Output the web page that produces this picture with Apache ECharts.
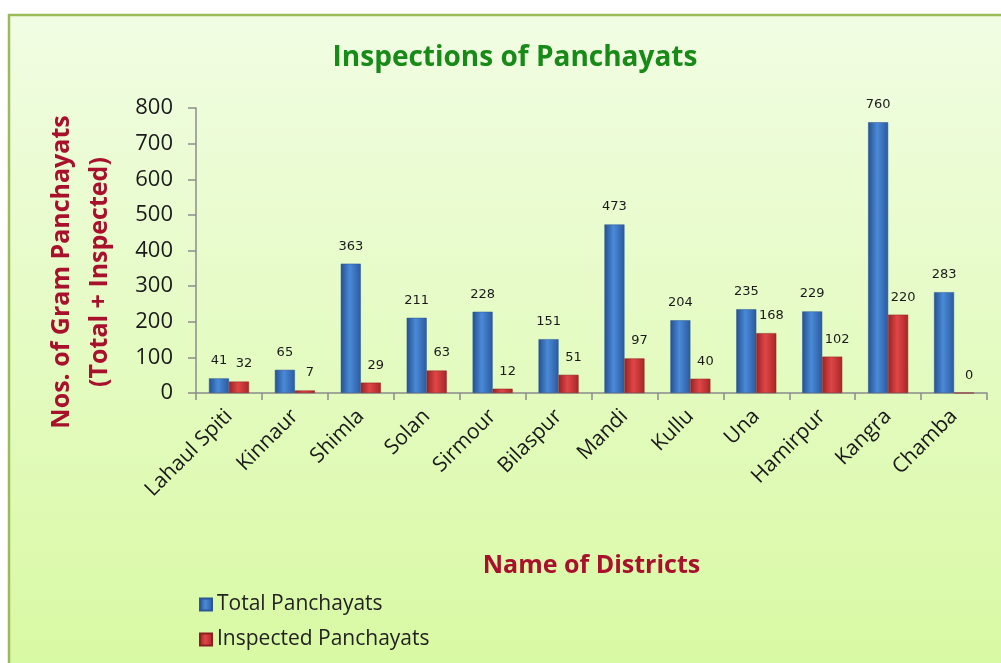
<!DOCTYPE html>
<html>
<head>
<meta charset="utf-8">
<script src="https://cdn.jsdelivr.net/npm/echarts@6/dist/echarts.min.js"></script>
<style>
  html, body { margin: 0; padding: 0; background: #fff; }
  #chart { width: 1001px; height: 663px; }
</style>
</head>
<body>
<div id="chart"></div>
<script>
// districts and counts
const districts = ['Lahaul Spiti', 'Kinnaur', 'Shimla', 'Solan', 'Sirmour', 'Bilaspur',
  'Mandi', 'Kullu', 'Una', 'Hamirpur', 'Kangra', 'Chamba']
const totalPanchayats = [41, 65, 363, 211, 228, 151, 473, 204, 235, 229, 760, 283]
const inspectedPanchayats = [32, 7, 29, 63, 12, 51, 97, 40, 168, 102, 220, 0]
const yTicks = { min: 0, max: 800, interval: 100 }

const font = 'Open Sans'

const barGrad = (dark, mid, light) => new echarts.graphic.LinearGradient(0, 0, 1, 0, [
  { offset: 0, color: dark },
  { offset: 0.45, color: light },
  { offset: 1, color: mid }
])

const chart = echarts.init(document.getElementById('chart'))
chart.setOption({
  animation: false,
  backgroundColor: '#fff',
  graphic: [
    {
      type: 'rect',
      z: -10,
      shape: { x: 9, y: 15, width: 1010, height: 660 },
      style: {
        fill: new echarts.graphic.LinearGradient(0, 0, 0, 1, [
          { offset: 0, color: '#f1fde3' },
          { offset: 1, color: '#d8f9a2' }
        ]),
        stroke: '#9bbb59',
        lineWidth: 2.5
      }
    },
    {
      // two-line y axis title, rotated
      type: 'text',
      x: 81,
      y: 272,
      rotation: Math.PI / 2,
      style: {
        text: 'Nos. of Gram Panchayats\n(Total + Inspected)',
        font: 'bold 25px "' + font + '"',
        fill: '#a8102c',
        align: 'center',
        verticalAlign: 'middle',
        lineHeight: 38
      }
    }
  ],
  title: {
    text: 'Inspections of Panchayats',
    left: 510,
    textAlign: 'center',
    top: 39,
    textStyle: { fontFamily: font, fontWeight: 'bold', fontSize: 28, color: '#188a18' }
  },
  legend: {
    orient: 'vertical',
    left: 194,
    top: 589,
    itemGap: 14,
    itemWidth: 12,
    itemHeight: 12,
    icon: 'rect',
    textStyle: { fontFamily: font, fontSize: 21, color: '#222' },
    data: ['Total Panchayats', 'Inspected Panchayats']
  },
  grid: { left: 196, right: 14, top: 108, bottom: 270 },
  xAxis: {
    type: 'category',
    data: districts,
    name: 'Name of Districts',
    nameLocation: 'middle',
    nameGap: 160,
    nameTextStyle: { fontFamily: font, fontWeight: 'bold', fontSize: 25, color: '#a8102c' },
    axisLine: { lineStyle: { color: '#8c8c8c', width: 1.5 } },
    axisTick: { show: true, length: 7, lineStyle: { color: '#8c8c8c', width: 1.5 } },
    axisLabel: { rotate: 45, margin: 20, fontFamily: font, fontSize: 21, color: '#1a1a1a', interval: 0 }
  },
  yAxis: {
    type: 'value',
    min: yTicks.min,
    max: yTicks.max,
    interval: yTicks.interval,
    axisLine: { show: true, lineStyle: { color: '#8c8c8c', width: 1.5 } },
    axisTick: { show: true, length: 8, lineStyle: { color: '#8c8c8c', width: 1.5 } },
    splitLine: { show: false },
    axisLabel: { margin: 23, fontFamily: font, fontSize: 22, color: '#1a1a1a' }
  },
  series: [
    {
      name: 'Total Panchayats',
      type: 'bar',
      data: totalPanchayats,
      barWidth: 20,
      barGap: '0%',
      itemStyle: {
        color: barGrad('#24508f', '#2a5a9e', '#4a8ad8'),
        borderColor: '#2b5797',
        borderWidth: 0.5
      },
      label: {
        show: true,
        position: 'top',
        distance: 11,
        fontFamily: 'DejaVu Sans',
        fontSize: 13,
        color: '#1a1a1a'
      }
    },
    {
      name: 'Inspected Panchayats',
      type: 'bar',
      data: inspectedPanchayats,
      barWidth: 20,
      itemStyle: {
        color: barGrad('#9a2224', '#a82628', '#e04646'),
        borderColor: '#8e1f21',
        borderWidth: 0.5
      },
      label: {
        show: true,
        position: 'top',
        distance: 11,
        offset: [5, 0],
        fontFamily: 'DejaVu Sans',
        fontSize: 13,
        color: '#1a1a1a'
      }
    }
  ]
})
</script>
</body>
</html>
